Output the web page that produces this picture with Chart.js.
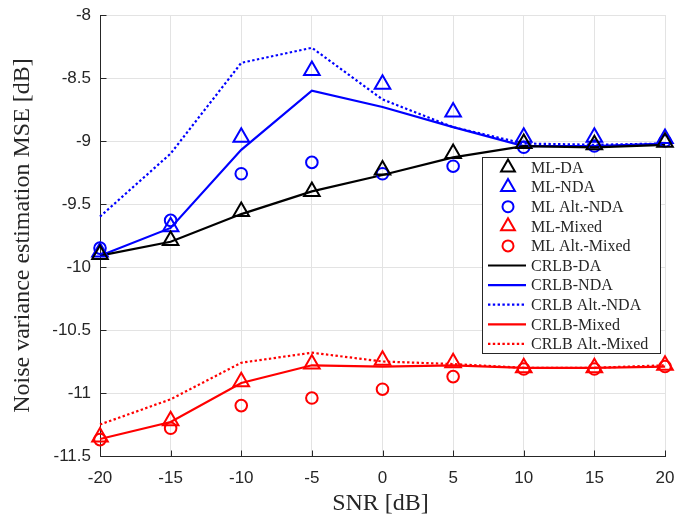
<!DOCTYPE html>
<html>
<head>
<meta charset="utf-8">
<script src="https://cdn.jsdelivr.net/npm/chart.js@4.4.1/dist/chart.umd.min.js"></script>
<style>
  html, body { margin: 0; padding: 0; background: #fff; }
  #wrap { width: 677px; height: 520px; position: relative; }
</style>
</head>
<body>
<div id="wrap"><canvas id="mseChart" width="677" height="520"></canvas></div>
<script>
// SNR grid [dB]
const snr = [-20, -15, -10, -5, 0, 5, 10, 15, 20];

// simulated estimators (markers)
const mlDA        = [-9.90, -9.79, -9.56, -9.40, -9.23, -9.10, -9.02, -9.03, -9.01];
const mlNDA       = [-9.88, -9.68, -8.97, -8.44, -8.55, -8.77, -8.97, -8.97, -8.98];
const mlAltNDA    = [-9.85, -9.63, -9.26, -9.17, -9.26, -9.20, -9.05, -9.04, -9.00];
const mlMixed     = [-11.35, -11.22, -10.91, -10.77, -10.74, -10.76, -10.80, -10.80, -10.78];
const mlAltMixed  = [-11.37, -11.28, -11.10, -11.04, -10.97, -10.87, -10.81, -10.81, -10.79];

// bounds (lines)
const crlbDA       = [-9.91, -9.80, -9.58, -9.40, -9.27, -9.13, -9.04, -9.05, -9.03];
const crlbNDA      = [-9.91, -9.69, -9.07, -8.60, -8.73, -8.89, -9.04, -9.04, -9.02];
const crlbAltNDA   = [-9.60, -9.10, -8.38, -8.26, -8.67, -8.89, -9.02, -9.03, -9.02];
const crlbMixed    = [-11.365, -11.23, -10.92, -10.78, -10.79, -10.78, -10.80, -10.80, -10.79];
const crlbAltMixed = [-11.25, -11.05, -10.76, -10.68, -10.75, -10.77, -10.80, -10.80, -10.78];

// axis text
const xTitle = "SNR [dB]";
const yTitle = "Noise variance estimation MSE [dB]";

const BLACK = "#000000";
const BLUE  = "#0000ff";
const RED   = "#ff0000";
const AXIS  = "#262626";
const SERIF = "'Liberation Serif', 'DejaVu Serif', serif";
const SANS  = "'Liberation Sans', Arial, sans-serif";

const xy = (ys) => snr.map((x, i) => ({ x, y: ys[i] }));

function markerSet(label, ys, color, style) {
  return {
    label,
    data: xy(ys),
    showLine: false,
    borderColor: color,
    backgroundColor: "rgba(0,0,0,0)",
    pointStyle: style,
    pointRadius: style === "triangle" ? 9 : 5.8,
    pointBorderWidth: 2,
    pointBorderColor: color,
    pointBackgroundColor: "rgba(0,0,0,0)",
    clip: false,
  };
}

function lineSet(label, ys, color, dotted) {
  return {
    label,
    data: xy(ys),
    borderColor: color,
    borderWidth: 2.2,
    borderDash: dotted ? [2.4, 2.4] : [],
    pointRadius: 0,
    tension: 0,
    fill: false,
    clip: false,
  };
}

const datasets = [
  markerSet("ML-DA", mlDA, BLACK, "triangle"),
  markerSet("ML-NDA", mlNDA, BLUE, "triangle"),
  markerSet("ML Alt.-NDA", mlAltNDA, BLUE, "circle"),
  markerSet("ML-Mixed", mlMixed, RED, "triangle"),
  markerSet("ML Alt.-Mixed", mlAltMixed, RED, "circle"),
  lineSet("CRLB-DA", crlbDA, BLACK, false),
  lineSet("CRLB-NDA", crlbNDA, BLUE, false),
  lineSet("CRLB Alt.-NDA", crlbAltNDA, BLUE, true),
  lineSet("CRLB-Mixed", crlbMixed, RED, false),
  lineSet("CRLB Alt.-Mixed", crlbAltMixed, RED, true),
];

/**
 * MATLAB-style axes (left/bottom only, inward ticks), titles and in-axes legend
 */
const matlabAxes = {
  id: "matlabAxes",
  beforeDatasetsDraw(chart) {
    const { ctx, chartArea: a, scales } = chart;
    ctx.save();
    ctx.strokeStyle = AXIS;
    ctx.lineWidth = 1;
    ctx.beginPath();
    const left = Math.round(a.left) + 0.5;
    const bottom = Math.round(a.bottom) + 0.5;
    for (const t of scales.x.ticks) {
      const px = Math.round(scales.x.getPixelForValue(t.value)) + 0.5;
      ctx.moveTo(px, bottom); ctx.lineTo(px, bottom - 6);
    }
    for (const t of scales.y.ticks) {
      const py = Math.round(scales.y.getPixelForValue(t.value)) + 0.5;
      ctx.moveTo(left, py); ctx.lineTo(left + 6, py);
    }
    ctx.moveTo(left, Math.round(a.top));
    ctx.lineTo(left, bottom);
    ctx.lineTo(Math.round(a.right) + 1, bottom);
    ctx.stroke();

    // axis titles
    ctx.fillStyle = AXIS;
    ctx.font = "24px " + SERIF;
    ctx.textAlign = "center";
    ctx.textBaseline = "middle";
    ctx.fillText(xTitle, (a.left + a.right) / 2 - 2, 504);
    ctx.translate(23, (a.top + a.bottom) / 2);
    ctx.rotate(-Math.PI / 2);
    ctx.fillText(yTitle, 0, 0);
    ctx.restore();
  },
  afterDatasetsDraw(chart) {
    const { ctx } = chart;
    const box = { x: 482, y: 157, w: 178, h: 196 };
    const rowH = 19.6;
    ctx.save();
    ctx.fillStyle = "#ffffff";
    ctx.fillRect(box.x, box.y, box.w, box.h);
    ctx.strokeStyle = AXIS;
    ctx.lineWidth = 1;
    ctx.strokeRect(box.x + 0.5, box.y + 0.5, box.w, box.h);
    ctx.font = "16px " + SERIF;
    ctx.textBaseline = "middle";
    chart.data.datasets.forEach((ds, i) => {
      const cy = box.y + 10.5 + i * rowH;
      ctx.strokeStyle = ds.borderColor;
      if (ds.showLine === false) {
        ctx.lineWidth = 2;
        ctx.setLineDash([]);
        const mx = 508;
        if (ds.pointStyle === "triangle") {
          const r = 8;
          ctx.beginPath();
          ctx.moveTo(mx, cy - r);
          ctx.lineTo(mx + r * 0.866, cy + r * 0.5);
          ctx.lineTo(mx - r * 0.866, cy + r * 0.5);
          ctx.closePath();
          ctx.stroke();
        } else {
          ctx.beginPath();
          ctx.arc(mx, cy, 5.5, 0, Math.PI * 2);
          ctx.stroke();
        }
      } else {
        ctx.lineWidth = 2.2;
        ctx.setLineDash(ds.borderDash);
        ctx.beginPath();
        ctx.moveTo(488, cy);
        ctx.lineTo(526, cy);
        ctx.stroke();
      }
      ctx.setLineDash([]);
      ctx.fillStyle = AXIS;
      ctx.fillText(ds.label, 531, cy + 1);
    });
    ctx.restore();
  },
};

new Chart(document.getElementById("mseChart"), {
  type: "line",
  data: { datasets },
  plugins: [matlabAxes],
  options: {
    responsive: false,
    animation: false,
    layout: { padding: { left: 0, top: 15, right: 12, bottom: 0 } },
    plugins: {
      legend: { display: false },
      tooltip: { enabled: false },
    },
    scales: {
      x: {
        type: "linear",
        min: -20,
        max: 20,
        ticks: {
          stepSize: 5,
          color: AXIS,
          padding: 12,
          font: { family: SANS, size: 17 },
        },
        grid: { color: "#e3e3e3", lineWidth: 1, tickLength: 0 },
        border: { display: false },
        afterFit(scale) {
          scale.height = 64;
          scale.paddingLeft = 0;
          scale.paddingRight = 0;
        },
      },
      y: {
        type: "linear",
        min: -11.5,
        max: -8,
        ticks: {
          stepSize: 0.5,
          color: AXIS,
          padding: 9,
          font: { family: SANS, size: 17 },
          callback: (v) => String(Math.round(v * 10) / 10),
        },
        grid: { color: "#e3e3e3", lineWidth: 1, tickLength: 0 },
        border: { display: false },
        afterFit(scale) {
          scale.width = 100;
          scale.paddingTop = 0;
          scale.paddingBottom = 0;
        },
      },
    },
  },
});
</script>
</body>
</html>
